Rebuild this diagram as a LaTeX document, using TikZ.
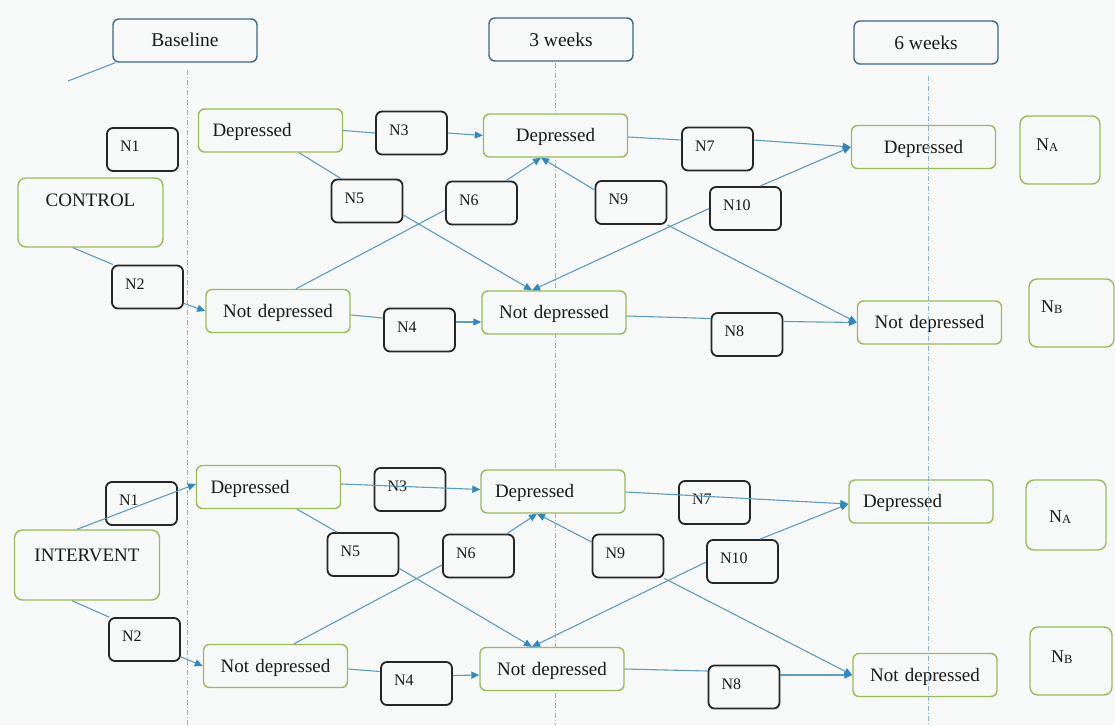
\documentclass[tikz,border=0pt]{standalone}
\usepackage{fontspec}
\setmainfont{Liberation Serif}
\usetikzlibrary{arrows.meta}
\definecolor{bgc}{HTML}{F7F8F8}
\definecolor{greenc}{HTML}{9BBB59}
\definecolor{headc}{HTML}{3A6A82}
\definecolor{linec}{HTML}{5E9CC2}
\definecolor{arrowc}{HTML}{2F88C2}
\definecolor{dashc}{HTML}{8DB5D0}
\definecolor{nboxc}{HTML}{262626}
\definecolor{txtc}{HTML}{1A1A1A}
\newcommand{\NAtxt}{N\raisebox{-1.5pt}{\fontsize{12.5}{12.5}\selectfont A}}
\newcommand{\NBtxt}{N\raisebox{-1.5pt}{\fontsize{12.5}{12.5}\selectfont B}}
\begin{document}
\begin{tikzpicture}[x=1pt,y=-1pt,
  every node/.style={text=txtc},
  headbox/.style={draw=headc, line width=1.4pt, rounded corners=6pt, fill=bgc, minimum width=144pt, minimum height=43pt, inner xsep=0pt, inner ysep=0pt, text height=28pt, text depth=15pt, font=\fontsize{19.5}{20}\selectfont},
  gbox/.style={draw=greenc, line width=1.4pt, rounded corners=6pt, fill=bgc, minimum height=43pt, inner ysep=0pt, text height=27.8pt, text depth=15.2pt, font=\fontsize{19}{20}\selectfont, text width=116pt, inner xsep=14pt},
  gl/.style={gbox, align=left},
  gc/.style={gbox, align=center},
  nbox/.style={draw=nboxc, line width=1.8pt, rounded corners=6pt, fill=bgc, minimum height=43pt, inner ysep=0pt, text height=23.8pt, text depth=19.2pt, text width=45pt, inner xsep=13pt, align=left, font=\fontsize{16}{17}\selectfont},
  grpbox/.style={draw=greenc, line width=1.4pt, rounded corners=8pt, fill=bgc, minimum width=145pt, inner xsep=0pt, inner ysep=0pt, font=\fontsize{19}{20}\selectfont},
  sumbox/.style={draw=greenc, line width=1.4pt, rounded corners=8pt, fill=bgc, minimum width=80pt, minimum height=68pt},
  sumtxt/.style={inner sep=0pt, anchor=base west, font=\fontsize{18}{18}\selectfont},
  conn/.style={draw=linec, line width=1.1pt},
  arr/.style={conn, -{Triangle[length=8pt,width=7pt,color=arrowc]}},
  timeline/.style={draw=dashc, line width=0.8pt, dash pattern=on 5pt off 2pt on 1pt off 2pt},
]
\fill[bgc] (0,0) rectangle (1115,725);
\useasboundingbox (0,0) rectangle (1115,725);

% time lines (behind boxes)
\coordinate (t1a) at (187,70);  \coordinate (t1b) at (187,725);
\coordinate (t2a) at (555,63);  \coordinate (t2b) at (555,725);
\coordinate (t3a) at (928,76);  \coordinate (t3b) at (928,725);
\draw[timeline] (t1a) -- (t1b);
\draw[timeline] (t2a) -- (t2b);

% headers
\node[headbox] (base) at (185,40.5) {Baseline};
\node[headbox] (wk3) at (561,39.5) {3 weeks};
\node[headbox] (wk6) at (926,42.5) {6 weeks};
\coordinate (blend) at (68,81);
\draw[conn] ([xshift=3pt]base.south west) -- (blend);

% ---------------- CONTROL ----------------
\node[nbox] (cN1) at (142.5,149.5) {N1};
\node[grpbox, minimum height=69pt, text height=28.3pt, text depth=40.7pt] (ctrl) at (90.5,212.5) {CONTROL};
\node[nbox] (cN2) at (147.5,287) {N2};
\node[gl] (cDb) at (270.5,130.5) {Depressed};
\node[nbox] (cN3) at (411.5,133) {N3};
\node[gc] (cD3) at (555.5,135.5) {Depressed};
\node[nbox] (cN5) at (367,201) {N5};
\node[nbox] (cN6) at (481.5,203) {N6};
\node[gc] (cNb) at (278,311) {Not depressed};
\node[nbox] (cN4) at (419.5,330) {N4};
\node[gc] (cN3n) at (554,312.5) {Not depressed};
\node[nbox] (cN7) at (717.5,149) {N7};
\node[nbox] (cN9) at (631,202.5) {N9};
\node[nbox] (cN10) at (745.5,208.5) {N10};
\node[nbox] (cN8) at (747,334.5) {N8};
\node[gc] (cD6) at (923.5,147) {Depressed};
\node[gc] (cN6n) at (929.5,322.5) {Not depressed};
\node[sumbox] (cNA) at (1060,150) {};
\node[sumtxt] (cNAt) at (1036,150) {\NAtxt};
\node[sumbox, minimum width=85pt] (cNB) at (1071.5,313) {};
\node[sumtxt] (cNBt) at (1041,312) {\NBtxt};

\draw[conn] ([xshift=-17.5pt]ctrl.south) -- ([xshift=2pt]cN2.north west);
\draw[arr] ([yshift=6pt]cN2.south east) -- (cNb.west);
\draw[conn] (cDb.east) -- (cN3.west);
\draw[arr] (cN3.east) -- (cD3.west);
\draw[conn] ([xshift=28.5pt]cDb.south) -- ([xshift=-26pt]cN5.north);
\draw[arr] ([yshift=-14pt]cN5.east) -- ([xshift=-22pt]cN3n.north);
\draw[conn] ([xshift=18pt]cNb.north) -- ([yshift=-7pt]cN6.west);
\draw[arr] ([xshift=24.5pt]cN6.north) -- ([xshift=-14.5pt]cD3.south);
\draw[conn] ([yshift=-4pt]cNb.east) -- ([yshift=12pt]cN4.west);
\draw[arr] ([yshift=8pt]cN4.east) -- ([yshift=-9.5pt]cN3n.west);
\draw[conn] ([yshift=-1.5pt]cD3.east) -- ([yshift=9pt]cN7.west);
\draw[arr] ([yshift=9pt]cN7.east) -- (cD6.west);
\draw[arr] ([yshift=12.5pt]cN9.west) -- ([xshift=-14.5pt]cD3.south);
\draw[arr] (cN9.south east) -- (cN6n.west);
\draw[arr] (cN10.west) -- ([xshift=-22pt]cN3n.north);
\draw[arr] ([xshift=14.5pt]cN10.north) -- (cD6.west);
\draw[conn] ([yshift=-3.5pt]cN3n.east) -- ([yshift=16pt]cN8.west);
\draw[arr] ([yshift=13pt]cN8.east) -- (cN6n.west);

% ---------------- INTERVENTION ----------------
\node[nbox] (iN1) at (141.5,503.5) {N1};
\node[grpbox, minimum height=70pt, text height=31.3pt, text depth=38.7pt] (intv) at (87,565) {INTERVENT};
\node[nbox] (iN2) at (144.5,639.5) {N2};
\node[gl] (iDb) at (268.5,487) {Depressed};
\node[nbox] (iN3) at (410,489.5) {N3};
\node[gl] (iD3) at (553,491.5) {Depressed};
\node[nbox] (iN5) at (363,554.5) {N5};
\node[nbox] (iN6) at (478.5,556) {N6};
\node[gc] (iNb) at (275.5,666) {Not depressed};
\node[nbox] (iN4) at (416.5,683.5) {N4};
\node[gc] (iN3n) at (552,669) {Not depressed};
\node[nbox] (iN7) at (714.5,502.5) {N7};
\node[nbox] (iN9) at (628,556) {N9};
\node[nbox] (iN10) at (742.5,561.5) {N10};
\node[nbox] (iN8) at (744,687) {N8};
\node[gl] (iD6) at (921,501.5) {Depressed};
\node[gc] (iN6n) at (925,675) {Not depressed};
\node[sumbox, minimum height=70pt] (iNA) at (1066,515) {};
\node[sumtxt] (iNAt) at (1049,522) {\NAtxt};
\node[sumbox, minimum width=82pt] (iNB) at (1071,661) {};
\node[sumtxt] (iNBt) at (1051,662) {\NBtxt};

\draw[arr] ([xshift=-10pt]intv.north) -- ([yshift=3pt]iDb.west);
\draw[conn] ([xshift=-15pt]intv.south) -- ([xshift=1pt]iN2.north west);
\draw[arr] ([yshift=5pt]iN2.south east) -- (iNb.west);
\draw[arr] ([yshift=3pt]iDb.east) -- ([yshift=2pt]iD3.west);
\draw[conn] ([xshift=28.5pt]iDb.south) -- ([xshift=-26pt]iN5.north);
\draw[arr] ([yshift=-14pt]iN5.east) -- ([xshift=-20pt]iN3n.north);
\draw[conn] ([xshift=18.5pt]iNb.north) -- ([yshift=-9pt]iN6.west);
\draw[arr] ([xshift=28.5pt]iN6.north) -- ([xshift=-16pt]iD3.south);
\draw[conn] ([yshift=-3pt]iNb.east) -- ([yshift=12pt]iN4.west);
\draw[arr] ([yshift=8pt]iN4.east) -- ([yshift=-6pt]iN3n.west);
\draw[arr] ([yshift=-0.5pt]iD3.east) -- ([yshift=-2.5pt]iD6.west);
\draw[arr] ([yshift=14pt]iN9.west) -- ([xshift=-16pt]iD3.south);
\draw[arr] (iN9.south east) -- (iN6n.west);
\draw[arr] ([yshift=-0.5pt]iN10.west) -- ([xshift=-20pt]iN3n.north);
\draw[arr] ([xshift=17.5pt]iN10.north) -- ([yshift=-2.5pt]iD6.west);
\draw[conn] (iN3n.east) -- ([yshift=16pt]iN8.west);
\draw[arr] ([yshift=12pt]iN8.east) -- (iN6n.west);

% 6-week time line drawn over its boxes
\draw[timeline] (t3a) -- (t3b);
\end{tikzpicture}
\end{document}
